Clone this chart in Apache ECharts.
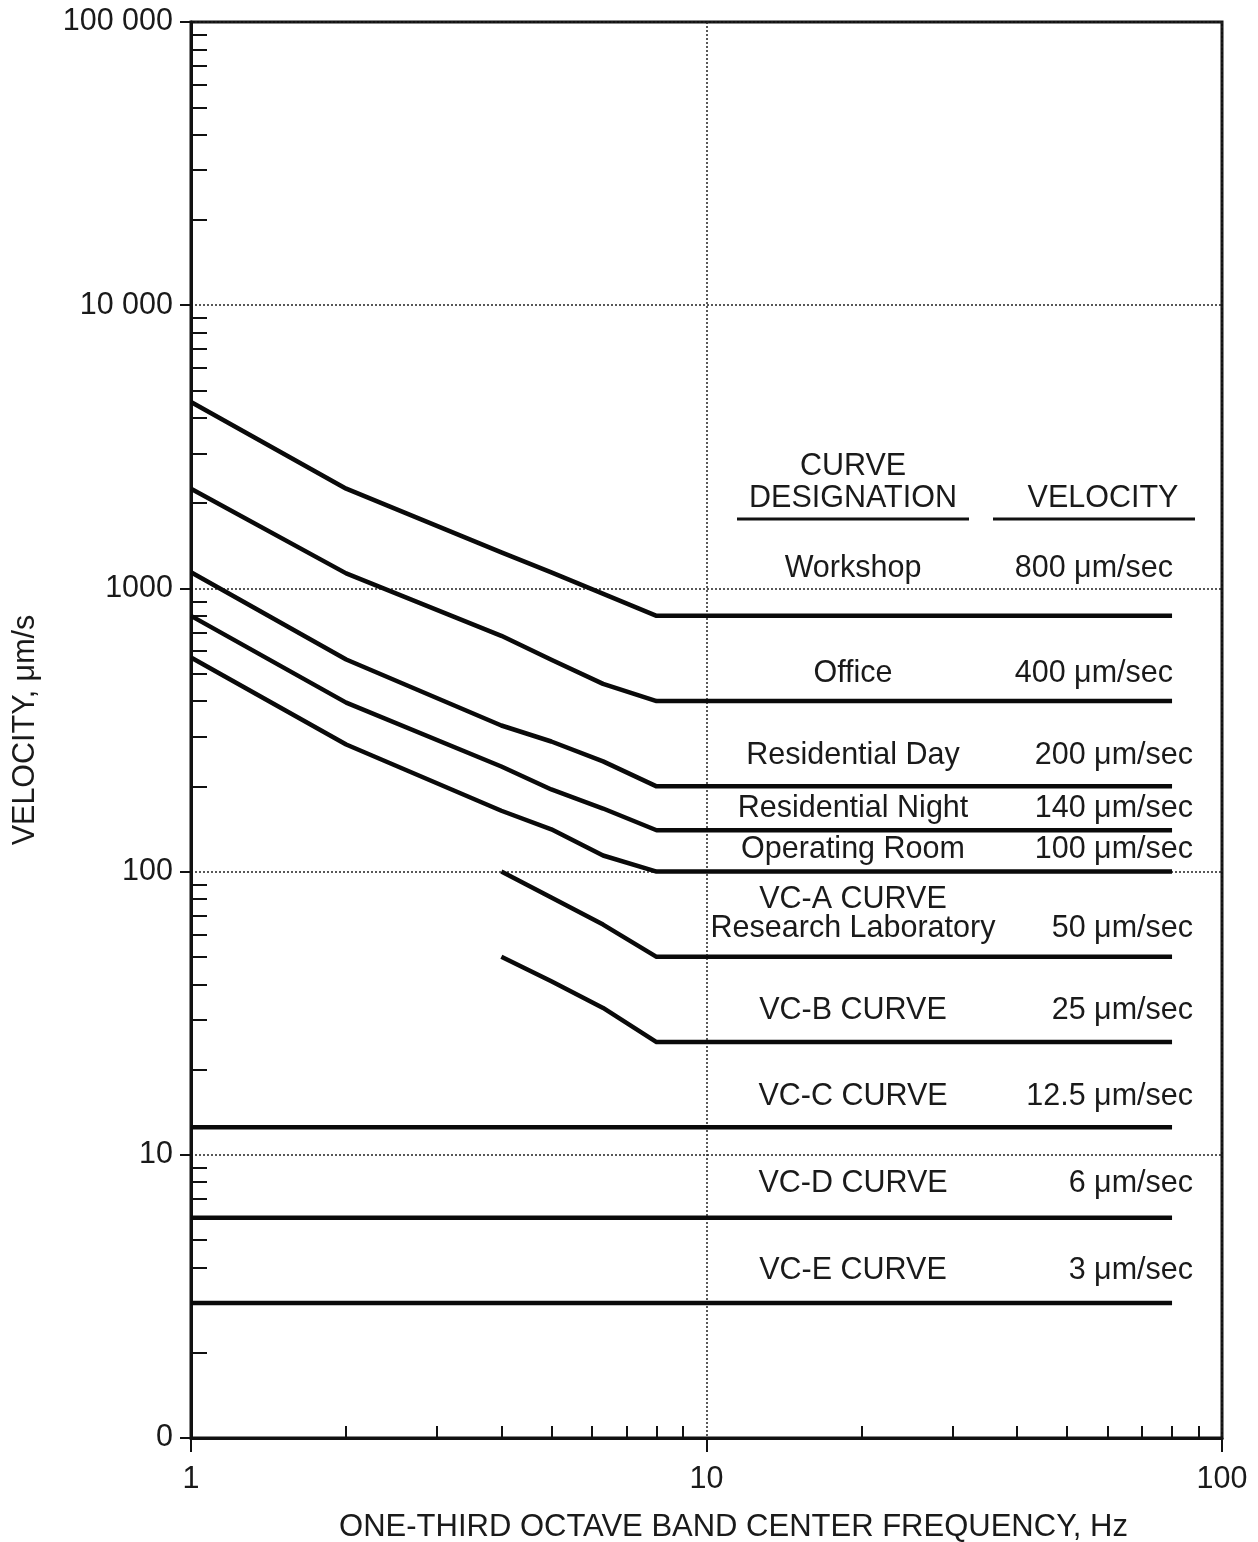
<!DOCTYPE html>
<html>
<head>
<meta charset="utf-8">
<script src="https://cdn.jsdelivr.net/npm/echarts@6/dist/echarts.min.js"></script>
<style>
  html, body { margin: 0; padding: 0; background: #fff; }
  #chart { width: 1258px; height: 1542px; }
</style>
</head>
<body>
<div id="chart"></div>
<script>
// Vibration criteria curves: velocity (µm/s) vs one-third octave band frequency (Hz)

// Frequencies (Hz) and velocities (µm/s) of each criterion curve
const workshopFreq = [1, 2, 4, 5, 8, 80];
const workshopVel  = [4550, 2250, 1340, 1140, 800, 800];

const officeFreq = [1, 2, 4, 5, 6.3, 8, 80];
const officeVel  = [2250, 1130, 680, 560, 460, 400, 400];

const resDayFreq = [1, 2, 4, 5, 6.3, 8, 80];
const resDayVel  = [1140, 561, 328, 288, 245, 200, 200];

const resNightFreq = [1, 2, 4, 5, 6.3, 8, 80];
const resNightVel  = [800, 395, 235, 195, 167, 140, 140];

const opRoomFreq = [1, 2, 4, 5, 6.3, 8, 80];
const opRoomVel  = [570, 281, 164, 141, 114, 100, 100];

const vcAFreq = [4, 5, 6.3, 8, 80];
const vcAVel  = [100, 81, 65, 50, 50];

const vcBFreq = [4, 5, 6.3, 8, 80];
const vcBVel  = [50, 41, 33, 25, 25];

const vcCFreq = [1, 80];
const vcCVel  = [12.5, 12.5];

const vcDFreq = [1, 80];
const vcDVel  = [6, 6];

const vcEFreq = [1, 80];
const vcEVel  = [3, 3];

// Axis tick values and their labels
const xTickValues = [1, 10, 100];
const xTickLabels = ['1', '10', '100'];
const yTickValues = [1, 10, 100, 1000, 10000, 100000];
const yTickLabels = ['0', '10', '100', '1000', '10 000', '100 000'];
const xMinorTicks = [2, 3, 4, 5, 6, 7, 8, 9, 20, 30, 40, 50, 60, 70, 80, 90];
const yMinorTicks = [];
for (let d = 1; d < 100000; d *= 10) {
  for (let k = 2; k <= 9; k++) yMinorTicks.push(k * d);
}

// Legend table text
const curveNames = ['Workshop', 'Office', 'Residential Day', 'Residential Night', 'Operating Room',
  'VC-A CURVE', 'Research Laboratory', 'VC-B CURVE', 'VC-C CURVE', 'VC-D CURVE', 'VC-E CURVE'];
const velocityTexts = ['800 μm/sec', '400 μm/sec', '200 μm/sec', '140 μm/sec', '100 μm/sec',
  '', '50 μm/sec', '25 μm/sec', '12.5 μm/sec', '6 μm/sec', '3 μm/sec'];

// Layout of the legend table (pixels)
const rowY = [569, 674, 756, 809, 850, 900, 929, 1011, 1097, 1184, 1271];
const velRight = [1173, 1173, 1193, 1193, 1193, 1193, 1193, 1193, 1193, 1193, 1193];
const nameCenterX = 853;

const FONT = '"Liberation Sans", Arial, Helvetica, sans-serif';
const TEXT = '#1a1a1a';
const FS = 30.5;

function pairs(f, v) { return f.map((x, i) => [x, v[i]]); }

const curves = [
  pairs(workshopFreq, workshopVel),
  pairs(officeFreq, officeVel),
  pairs(resDayFreq, resDayVel),
  pairs(resNightFreq, resNightVel),
  pairs(opRoomFreq, opRoomVel),
  pairs(vcAFreq, vcAVel),
  pairs(vcBFreq, vcBVel),
  pairs(vcCFreq, vcCVel),
  pairs(vcDFreq, vcDVel),
  pairs(vcEFreq, vcEVel)
];

function labelFor(values, labels) {
  return function (v) {
    for (let i = 0; i < values.length; i++) {
      if (Math.abs(Math.log10(v) - Math.log10(values[i])) < 1e-6) return labels[i];
    }
    return '';
  };
}

const gridLine = { show: true, lineStyle: { color: '#222', width: 1.5, type: [2, 2] } };

const graphic = [];
curveNames.forEach((t, i) => {
  graphic.push({
    type: 'text', x: nameCenterX, y: rowY[i], silent: true,
    style: { text: t, fontFamily: FONT, fontSize: FS, fill: TEXT, align: 'center', verticalAlign: 'middle' }
  });
  if (velocityTexts[i]) {
    graphic.push({
      type: 'text', x: velRight[i], y: rowY[i], silent: true,
      style: { text: velocityTexts[i], fontFamily: FONT, fontSize: FS, fill: TEXT, align: 'right', verticalAlign: 'middle' }
    });
  }
});
// Table headers and their underlines
[['CURVE', 853, 467], ['DESIGNATION', 853, 499], ['VELOCITY', 1103, 499]].forEach(h => {
  graphic.push({
    type: 'text', x: h[1], y: h[2], silent: true,
    style: { text: h[0], fontFamily: FONT, fontSize: FS, fill: TEXT, align: 'center', verticalAlign: 'middle' }
  });
});
[[737, 969], [993, 1195]].forEach(s => {
  graphic.push({
    type: 'line', silent: true,
    shape: { x1: s[0], y1: 519, x2: s[1], y2: 519 },
    style: { stroke: '#111', lineWidth: 3 }
  });
});

const chart = echarts.init(document.getElementById('chart'), null, { renderer: 'canvas' });

chart.setOption({
  animation: false,
  backgroundColor: '#fff',
  grid: {
    left: 191, right: 36, top: 22, bottom: 104,
    show: true, borderColor: '#111', borderWidth: 3,
    containLabel: false, outerBoundsMode: 'none'
  },
  xAxis: [
    {
      type: 'log', logBase: 10, min: 1, max: 100, position: 'bottom',
      axisLine: { show: true, onZero: false, lineStyle: { color: '#111', width: 3 } },
      axisTick: { show: true, inside: false, length: 14, customValues: xTickValues, lineStyle: { color: '#111', width: 2 } },
      axisLabel: { show: true, customValues: xTickValues, formatter: labelFor(xTickValues, xTickLabels),
        margin: 26, fontFamily: FONT, fontSize: FS, color: TEXT },
      splitLine: gridLine,
      minorTick: { show: false }, minorSplitLine: { show: false },
      name: 'ONE-THIRD OCTAVE BAND CENTER FREQUENCY, Hz', nameLocation: 'middle', nameGap: 74,
      nameTextStyle: { fontFamily: FONT, fontSize: 31, color: TEXT, padding: [0, 0, 0, 54] }
    },
    {
      type: 'log', logBase: 10, min: 1, max: 100, position: 'bottom',
      axisLine: { show: false },
      axisTick: { show: true, inside: true, length: 12, customValues: xMinorTicks, lineStyle: { color: '#111', width: 2 } },
      axisLabel: { show: false },
      splitLine: { show: false }
    }
  ],
  yAxis: [
    {
      type: 'log', logBase: 10, min: 1, max: 100000, position: 'left',
      axisLine: { show: true, onZero: false, lineStyle: { color: '#111', width: 3 } },
      axisTick: { show: true, inside: false, length: 11, customValues: yTickValues, lineStyle: { color: '#111', width: 2 } },
      axisLabel: { show: true, customValues: yTickValues, formatter: labelFor(yTickValues, yTickLabels),
        margin: 18, fontFamily: FONT, fontSize: FS, color: TEXT },
      splitLine: gridLine,
      minorTick: { show: false }, minorSplitLine: { show: false },
      name: 'VELOCITY, μm/s', nameLocation: 'middle', nameGap: 150, nameRotate: 90,
      nameTextStyle: { fontFamily: FONT, fontSize: FS, color: TEXT }
    },
    {
      type: 'log', logBase: 10, min: 1, max: 100000, position: 'left',
      axisLine: { show: false },
      axisTick: { show: true, inside: true, length: 16, customValues: yMinorTicks, lineStyle: { color: '#111', width: 2 } },
      axisLabel: { show: false },
      splitLine: { show: false }
    }
  ],
  series: curves.map(d => ({
    type: 'line',
    xAxisIndex: 0, yAxisIndex: 0,
    data: d,
    showSymbol: false,
    symbol: 'none',
    silent: true,
    lineStyle: { color: '#0a0a0a', width: 4.5, cap: 'butt', join: 'round' }
  })),
  graphic: graphic
});
</script>
</body>
</html>
